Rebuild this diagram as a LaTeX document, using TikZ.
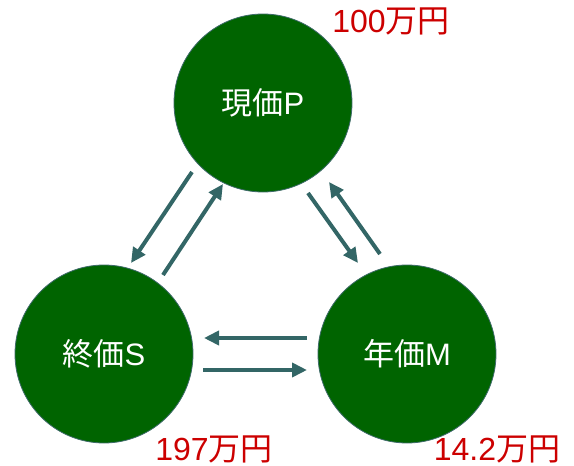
\documentclass[tikz,border=0pt]{standalone}
\usepackage{fontspec}
\setmainfont{Liberation Sans}
\newfontfamily\cjk{Noto Sans CJK JP}
\usetikzlibrary{arrows.meta}
\definecolor{nodefill}{HTML}{006400}
\definecolor{nodeedge}{HTML}{3E6A6A}
\definecolor{arrowcol}{HTML}{336666}
\definecolor{valred}{HTML}{CC0000}
\tikzset{
  valnode/.style={circle,fill=nodefill,draw=nodeedge,line width=0.8pt,minimum size=178pt,inner sep=0pt,text=white,font=\fontsize{31}{33}\selectfont},
  vallabel/.style={text=valred,font=\fontsize{32}{34}\selectfont,inner sep=0pt},
  flow/.style={draw=arrowcol,line width=4pt,-{Triangle[length=15pt,width=14pt]}}
}
\begin{document}
\begin{tikzpicture}[x=1pt,y=-1pt]
\useasboundingbox (0,0) rectangle (574,466);
\node[valnode] (P) at (263,103) {{\cjk 現価}P};
\node[valnode] (S) at (104,354) {{\cjk 終価}S};
\node[valnode] (M) at (407,354) {{\cjk 年価}M};
\node[vallabel] (lp) at (391,21) {100{\cjk 万円}};
\node[vallabel] (ls) at (214,449) {197{\cjk 万円}};
\node[vallabel] (lm) at (497,449) {14.2{\cjk 万円}};
\coordinate (a1s) at (192,172); \coordinate (a1e) at (131,263);
\coordinate (a2s) at (163,275); \coordinate (a2e) at (223,184);
\coordinate (a3s) at (307,338); \coordinate (a3e) at (204,338);
\coordinate (a4s) at (203,370); \coordinate (a4e) at (307,370);
\coordinate (a5s) at (308,193); \coordinate (a5e) at (358,263);
\coordinate (a6s) at (380,254); \coordinate (a6e) at (329,182);
\draw[flow] (a1s) -- (a1e);
\draw[flow] (a2s) -- (a2e);
\draw[flow] (a3s) -- (a3e);
\draw[flow] (a4s) -- (a4e);
\draw[flow] (a5s) -- (a5e);
\draw[flow] (a6s) -- (a6e);
\end{tikzpicture}
\end{document}
